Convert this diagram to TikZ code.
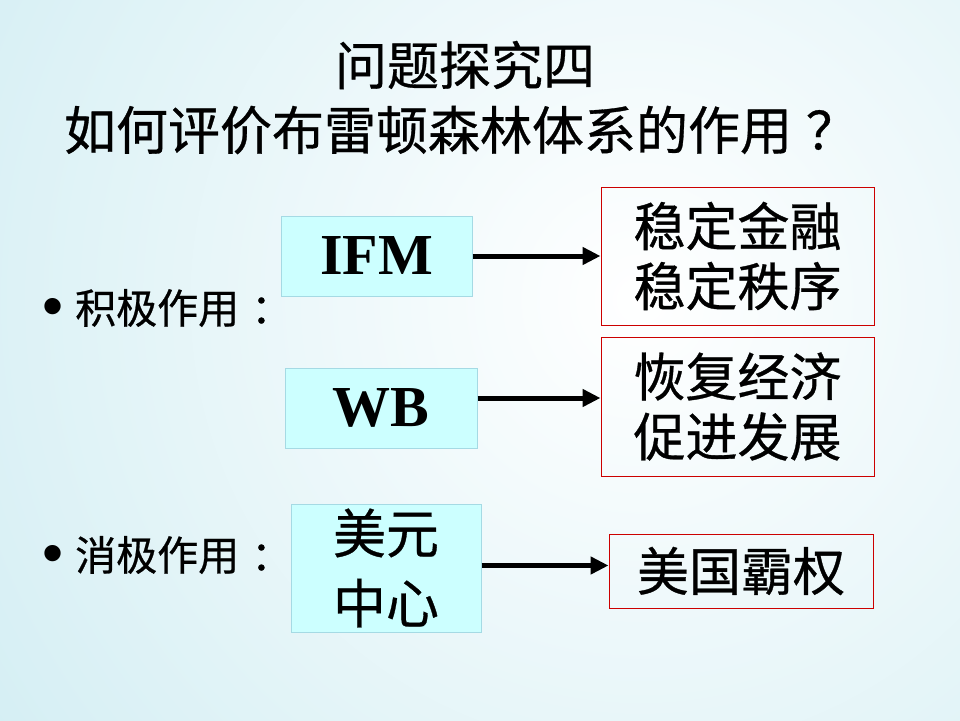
\documentclass[tikz,border=0pt]{standalone}
\usepackage{fontspec}
\setmainfont{Liberation Serif}
\newfontfamily\cjk[FakeBold=0.6]{Noto Sans CJK SC}
\newfontfamily\bulletfont{Liberation Sans}
\usetikzlibrary{arrows.meta}
\definecolor{bgedge}{RGB}{206,236,242}
\definecolor{boxfill}{RGB}{204,255,255}
\definecolor{boxline}{RGB}{165,218,228}
\definecolor{redline}{RGB}{204,0,0}
\newcommand{\mybul}{\makebox[33pt][l]{\raisebox{-3pt}{\bulletfont\fontsize{60}{60}\selectfont •}}}
\begin{document}
\begin{tikzpicture}[x=1pt,y=-1pt,
  title/.style={font=\cjk\fontsize{52}{60}\selectfont, inner sep=0pt},
  bullettext/.style={font=\cjk\fontsize{41}{48}\selectfont, inner sep=0pt, anchor=west},
  srcbox/.style={draw=boxline, line width=1pt, fill=boxfill, inner sep=0pt},
  latin/.style={font=\bfseries\fontsize{58}{64}\selectfont},
  resbox/.style={draw=redline, line width=1pt, inner sep=0pt, align=center,
    font=\cjk\fontsize{52}{60}\selectfont},
  arr/.style={line width=5pt, -{Triangle[length=18pt,width=17pt]}}
]
\useasboundingbox (0,0) rectangle (960,720);
\begin{scope}
  \clip (0,0) rectangle (960,720);
  \shade[inner color=white, outer color=bgedge] (640,300) circle (900);
\end{scope}

\node[title] (t1) at (465,65) {问题探究四};
\node[title] (t2) at (461,130) {如何评价布雷顿森林体系的作用\kern14pt？};

\node[bullettext] (b1) at (42,308) {\mybul 积极作用\kern12pt：};
\node[bullettext] (b2) at (42,555) {\mybul 消极作用\kern12pt：};

\node[srcbox, latin, minimum width=191pt, minimum height=80pt] (ifm) at (376.5,256) {IFM};
\node[srcbox, latin, minimum width=192pt, minimum height=80pt] (wb) at (381,408) {WB};
\node[srcbox, align=center, font=\cjk\fontsize{53}{70}\selectfont,
      minimum width=190pt, minimum height=128pt] (usd) at (386,568) {美元\\中心};

\node[resbox, minimum width=273pt, minimum height=138pt] (r1) at (737.5,256) {稳定金融\\稳定秩序};
\node[resbox, minimum width=273pt, minimum height=139pt] (r2) at (737.5,406.5) {恢复经济\\促进发展};
\node[resbox, minimum width=264pt, minimum height=74pt] (r3) at (741,571) {美国霸权};

\draw[arr] (ifm.east) -- (r1.west);
\draw[arr] ([yshift=10pt]wb.east) coordinate (a2) -- (a2 -| r2.west);
\draw[arr] ([yshift=2.5pt]usd.east) coordinate (a3) -- (a3 -| r3.west);
\end{tikzpicture}
\end{document}
